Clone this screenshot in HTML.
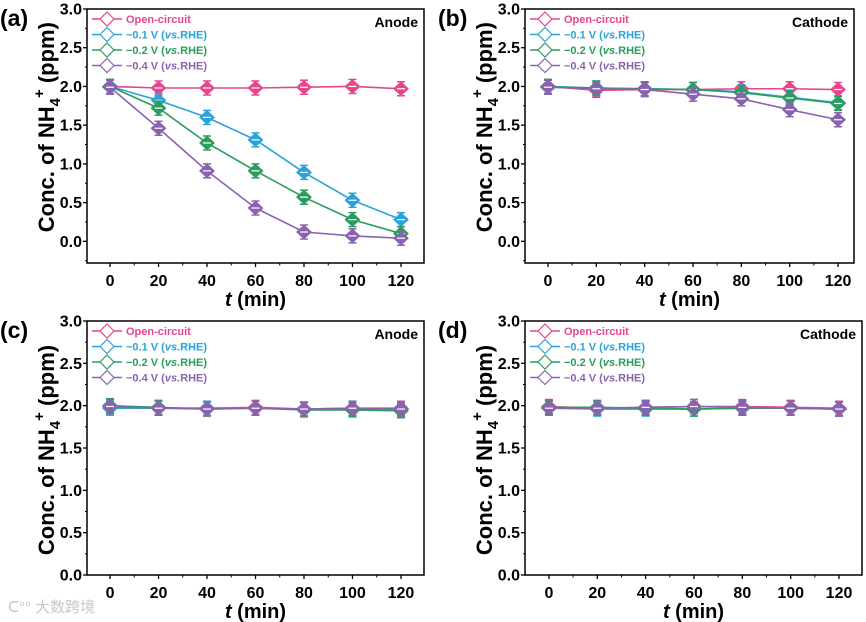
<!DOCTYPE html>
<html><head><meta charset="utf-8"><style>
html,body{margin:0;padding:0;background:#fff}
svg{display:block;font-family:"Liberation Sans","Noto Sans CJK SC",sans-serif;font-weight:bold}
</style></head><body>
<svg id="c" width="866" height="622" viewBox="0 0 866 622" xmlns="http://www.w3.org/2000/svg"></svg>
<script>
const times = [0,20,40,60,80,100,120];
const seriesNames = ["Open-circuit","\u22120.1 V","\u22120.2 V","\u22120.4 V"];
const colors = ["#e8458c","#2aa3d8","#2a9d5c","#8a63b0"];
const yTicks = [0,0.5,1.0,1.5,2.0,2.5,3.0];
const xTicks = [0,20,40,60,80,100,120];
// panel a (Anode)
const aOC  = [2.00,1.98,1.98,1.98,1.99,2.00,1.97];
const aM01 = [2.00,1.82,1.60,1.31,0.89,0.53,0.28];
const aM02 = [2.00,1.72,1.27,0.91,0.57,0.28,0.10];
const aM04 = [1.99,1.46,0.91,0.43,0.12,0.07,0.04];
// panel b (Cathode)
const bOC  = [2.00,1.95,1.96,1.96,1.97,1.97,1.96];
const bM01 = [1.99,1.98,1.97,1.96,1.93,1.86,1.79];
const bM02 = [2.00,1.98,1.97,1.96,1.92,1.85,1.78];
const bM04 = [1.99,1.97,1.96,1.90,1.84,1.70,1.57];
// panel c (Anode)
const cOC  = [1.99,1.97,1.97,1.98,1.96,1.97,1.97];
const cM01 = [1.97,1.97,1.97,1.97,1.96,1.96,1.96];
const cM02 = [2.00,1.98,1.96,1.97,1.95,1.95,1.94];
const cM04 = [1.99,1.97,1.96,1.97,1.96,1.97,1.96];
// panel d (Cathode)
const dOC  = [1.99,1.97,1.98,1.99,1.99,1.98,1.97];
const dM01 = [1.97,1.96,1.96,1.96,1.97,1.97,1.96];
const dM02 = [1.98,1.98,1.97,1.96,1.97,1.97,1.96];
const dM04 = [1.97,1.97,1.98,1.99,1.98,1.97,1.96];

const svg = document.getElementById('c');
const NS = "http://www.w3.org/2000/svg";
function mk(tag, attrs, parent){
  const e = document.createElementNS(NS, tag);
  for (const k in attrs) e.setAttribute(k, attrs[k]);
  (parent||svg).appendChild(e); return e;
}
function panel(p){
  const g = mk('g', {});
  
  
  const X = t => p.x0 + (t - p.xmin) / (p.xmax - p.xmin) * (p.x1 - p.x0);
  const Y = v => p.y1 - (v - p.ymin) / (p.ymax - p.ymin) * (p.y1 - p.y0);
  const box = mk('rect', {x:p.x0, y:p.y0, width:p.x1-p.x0, height:p.y1-p.y0, fill:'none', stroke:'#000', 'stroke-width':1.5}, g);
  
  
  yTicks.forEach(v => {
    mk('line', {x1:p.x0-4, x2:p.x0, y1:Y(v), y2:Y(v), stroke:'#000', 'stroke-width':1.3}, g);
    const t = mk('text', {x:p.x0-5, y:Y(v)+5.5, 'text-anchor':'end', 'font-size':16}, g);
    t.textContent = v.toFixed(1);
    
    
    if (v < 3) {
      const m = Y(v+0.25);
      mk('line', {x1:p.x0-2, x2:p.x0, y1:m, y2:m, stroke:'#000', 'stroke-width':1}, g);
    }
  });
  if (p.ymin < 0) mk('line', {x1:p.x0-2, x2:p.x0, y1:Y(-0.25), y2:Y(-0.25), stroke:'#000', 'stroke-width':1}, g);
  xTicks.forEach(v => {
    mk('line', {x1:X(v), x2:X(v), y1:p.y1, y2:p.y1+4, stroke:'#000', 'stroke-width':1.3}, g);
    const t = mk('text', {x:X(v), y:p.y1+23, 'text-anchor':'middle', 'font-size':16}, g);
    t.textContent = v;
    
    
    if (v < 120) mk('line', {x1:X(v+10), x2:X(v+10), y1:p.y1, y2:p.y1+2.5, stroke:'#000', 'stroke-width':1}, g);
  });
  const xt = mk('text', {x:(p.x0+p.x1)/2, y:p.y1+43, 'text-anchor':'middle', 'font-size':20}, g);
  xt.innerHTML = '<tspan font-style="italic">t</tspan> (min)';
  
  
  const cy = (Y(0)+Y(3))/2 + 2;
  const yt = mk('text', {x:0, y:0, 'text-anchor':'middle', 'font-size':22, transform:`translate(${p.x0-33},${cy}) rotate(-90)`}, g);
  yt.innerHTML = 'Conc. of NH<tspan font-size="15" dy="6">4</tspan><tspan font-size="15" dy="-16">+</tspan><tspan dy="10"> (ppm)</tspan>';
  
  
  const lab = mk('text', {x:p.x0-87, y:p.y0+17, 'font-size':23}, g);
  lab.textContent = '(' + p.id + ')';
  
  
  const el = mk('text', {x:p.x1-6, y:p.y0+18, 'text-anchor':'end', 'font-size':14}, g);
  el.textContent = p.electrode;
  
  
  p.data.forEach((vals, si) => {
    const col = colors[si];
    const sg = mk('g', {}, g);
    
    
    const pts = vals.map((v,i) => X(times[i]) + ',' + Y(v)).join(' ');
    const pl = mk('polyline', {points:pts, fill:'none', stroke:col, 'stroke-width':1.6}, sg);
    
    
    vals.forEach((v,i) => {
      const x = X(times[i]), y = Y(v), e = 5;
      mk('line', {x1:x, x2:x, y1:y-e-2, y2:y+e+2, stroke:col, 'stroke-width':1.5}, sg);
      mk('line', {x1:x-4, x2:x+4, y1:y-e-2, y2:y-e-2, stroke:col, 'stroke-width':1.5}, sg);
      mk('line', {x1:x-4, x2:x+4, y1:y+e+2, y2:y+e+2, stroke:col, 'stroke-width':1.5}, sg);
      const d = mk('polygon', {points:`${x},${y-6.5} ${x+7},${y} ${x},${y+6.5} ${x-7},${y}`, fill:col, stroke:col, 'stroke-width':1.3}, sg);
      
      
      mk('line', {x1:x-4, x2:x+4, y1:y, y2:y, stroke:'#fff', 'stroke-width':1.2}, sg);
    });
  });
  seriesNames.forEach((n, si) => {
    const col = colors[si];
    const ly = p.y0 + 10 + si*15.5;
    const lg = mk('g', {}, g);
    
    
    const lx = p.x0 + 5;
    mk('line', {x1:lx, x2:lx+30, y1:ly, y2:ly, stroke:col, 'stroke-width':1.6}, lg);
    mk('polygon', {points:`${lx+15},${ly-7} ${lx+22},${ly} ${lx+15},${ly+7} ${lx+8},${ly}`, fill:'#fff', stroke:col, 'stroke-width':1.2}, lg);
    const t = mk('text', {x:lx+34, y:ly+4, 'font-size':11, fill:col}, lg);
    t.innerHTML = si === 0 ? n : n + ' (<tspan font-style="italic">vs.</tspan>RHE)';
  });
}
panel({id:'a', electrode:'Anode', x0:87, x1:424, y0:9, y1:263, xmin:-9.5, xmax:129.5, ymin:-0.28, ymax:3.0, data:[aOC,aM01,aM02,aM04]});
panel({id:'b', electrode:'Cathode', x0:525, x1:854, y0:9, y1:263, xmin:-9.5, xmax:126.6, ymin:-0.28, ymax:3.0, data:[bOC,bM01,bM02,bM04]});
panel({id:'c', electrode:'Anode', x0:87, x1:424, y0:321, y1:575, xmin:-9.5, xmax:129.5, ymin:0, ymax:3.0, data:[cOC,cM01,cM02,cM04]});
panel({id:'d', electrode:'Cathode', x0:525, x1:862, y0:321, y1:575, xmin:-9.9, xmax:129.5, ymin:0, ymax:3.0, data:[dOC,dM01,dM02,dM04]});
const wm = mk('text', {x:8, y:612, 'font-size':15, fill:'#c8c8c8', 'font-weight':'normal'});
wm.textContent = 'ᑕ°° 大数跨境';


</script>
</body></html>
